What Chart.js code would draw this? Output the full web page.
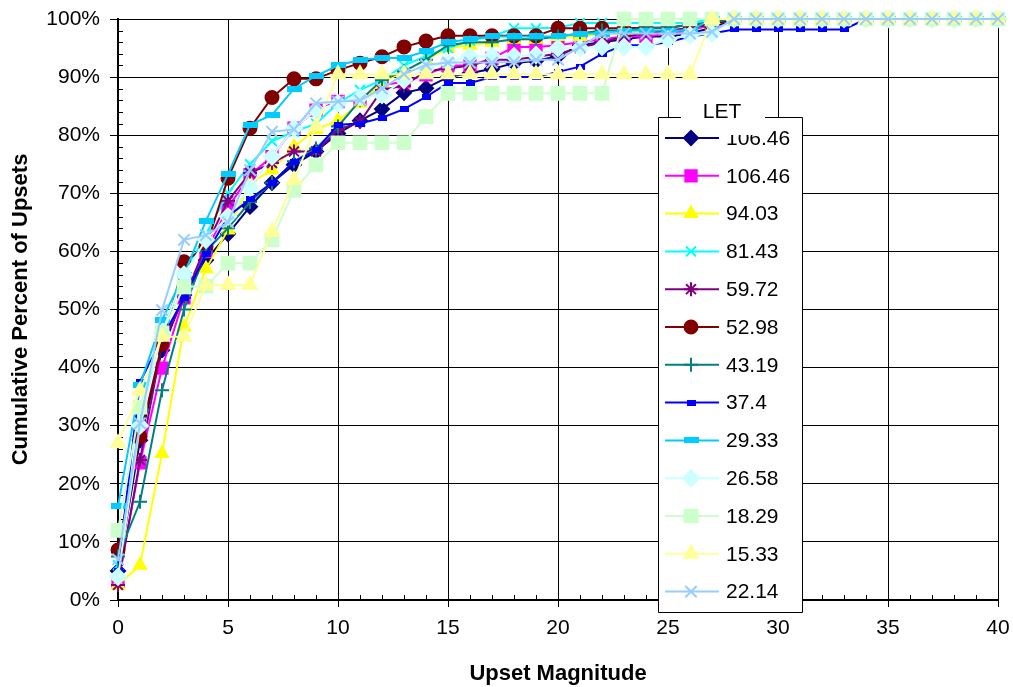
<!DOCTYPE html>
<html>
<head>
<meta charset="utf-8">
<script src="https://cdn.jsdelivr.net/npm/chart.js@4.4.1/dist/chart.umd.min.js"></script>
<style>
  html, body { margin: 0; padding: 0; background: #fff; }
  #wrap { width: 1013px; height: 687px; }
</style>
</head>
<body>
<div id="wrap"><canvas id="chartId" width="1013" height="687"></canvas></div>
<script>
// upset magnitude (x) and cumulative percent per LET value
const magnitudes = [0,1,2,3,4,5,6,7,8,9,10,11,12,13,14,15,16,17,18,19,20,21,22,23,24,25,26,27,28,29,30,31,32,33,34,35,36,37,38,39,40];
const letLabels = ['106.46','106.46','94.03','81.43','59.72','52.98','43.19','37.4','29.33','26.58','18.29','15.33','22.14'];

const let106a = [5,27.5,43,52.5,58.5,63,67.7,71.8,74.9,77.2,80.3,82.5,84.5,87.3,88.1,90,90.7,91.4,92.4,92.8,93.6,95.5,96,96.5,97,97,97.5,98.5,100,100,100,100,100,100,100,100,100,100,100,100,100];
const let106b = [3,23.6,39.9,52,60,67.5,73.2,76.3,81.2,84.3,85.8,86,88.6,89.2,90.4,92,92,93.2,95.2,95.2,95.5,96,96.5,97,97,97.5,98,99,100,100,100,100,100,100,100,100,100,100,100,100,100];
const let94 = [2.6,6,25.2,47,57,63.7,71.7,74,78,81,82.5,85.5,89,91,93,95,95.5,96,96.5,96.5,97,97,97.5,97.5,98,98,98.5,99,100,100,100,100,100,100,100,100,100,100,100,100,100];
const let81 = [6,31,46,56,63,70,75,79,80.6,82,85.5,87.8,89.5,92,93.6,95,96.3,97,98.4,98.4,98.5,99.3,99.3,99.3,99.3,99.3,99.3,100,100,100,100,100,100,100,100,100,100,100,100,100,100];
const let59 = [2.6,24.1,44,52,61,68.7,73.5,75.2,77.2,77.2,80.9,82.3,87.8,88.5,91,91.5,92,93,93,93.5,94,95,96,97,97.5,98,98.5,99,100,100,100,100,100,100,100,100,100,100,100,100,100];
const let52 = [8.6,28.1,44,58.2,60.8,72.6,81.2,86.5,89.7,89.7,91.2,92.4,93.5,95.2,96.2,97.1,97.1,97.1,97.1,97.1,98.4,98.4,98.4,98.4,98.5,98.5,99,99,100,100,100,100,100,100,100,100,100,100,100,100,100];
const let43 = [7.5,16.9,36.1,50,60,64,68.5,71.8,75.5,77.7,81.5,86,89.5,91,93,95.5,96,96,96.5,96.5,97,97.5,98,98,98.5,98.5,99,99.5,100,100,100,100,100,100,100,100,100,100,100,100,100];
const let37 = [5,37.5,45,52,59.5,66,69,71.8,75.4,77.4,81.8,82,83,84.5,86.6,89,89,90,90,90,90.9,91.8,94,95.5,95.5,96,97,97.5,98.2,98.2,98.2,98.2,98.2,98.2,100,100,100,100,100,100,100];
const let29 = [16.2,37,48.2,56,65.3,73.3,81.8,83.5,88,90.2,92,93,93.3,93.3,94.5,96,96.5,97,97,97,97,97.5,97.5,98,98,98,98,100,100,100,100,100,100,100,100,100,100,100,100,100,100];
const let26 = [4,30,46,56,62,66,71,76.3,81.2,84.3,85.5,86.5,86.9,89.5,91.5,92.5,93.6,93.6,93.6,93.8,95,95,95.2,95.2,95.2,96.5,97.2,97.5,100,100,100,100,100,100,100,100,100,100,100,100,100];
const let18 = [12,33.2,46,53.9,54,58,58,62,70.5,74.9,78.7,78.7,78.7,78.7,83.2,87.2,87.2,87.2,87.2,87.2,87.2,87.2,87.2,100,100,100,100,100,100,100,100,100,100,100,100,100,100,100,100,100,100];
const let15 = [27,36,45.3,45.3,54.2,54.2,54.2,63.4,72.3,81.5,90.5,90.5,90.5,90.5,90.5,90.5,90.5,90.5,90.5,90.5,90.5,90.5,90.5,90.5,90.5,90.5,90.5,100,100,100,100,100,100,100,100,100,100,100,100,100,100];
const let22 = [7,30.4,49.9,62,62.8,65,74,80.6,81,85.5,85.8,86,88,90.5,92.1,92.5,92.5,92.5,92.6,93,93,95.2,97.5,97.5,97.5,97.5,97.5,97.8,100,100,100,100,100,100,100,100,100,100,100,100,100];

const seriesValues = [let106a, let106b, let94, let81, let59, let52, let43, let37, let29, let26, let18, let15, let22];

// little bar shaped markers (Excel "dash" markers)
function barMarker(w, h, color) {
    const c = document.createElement('canvas');
    c.width = w; c.height = h;
    const g = c.getContext('2d');
    g.fillStyle = color;
    g.fillRect(0, 0, w, h);
    return c;
}

const colors = ['#000080','#FF00FF','#FFFF00','#00FFFF','#800080','#800000','#008080','#0000FF','#00CCFF','#CCFFFF','#CCFFCC','#FFFF99','#99CCFF'];
const markers = ['rectRot','rect','triangle','crossRot','star','circle','cross',
    barMarker(9, 6, '#0000FF'), barMarker(15, 6, '#00CCFF'),
    'rectRot','rect','triangle','crossRot'];
const markerSizes = [7, 8, 7, 7, 7, 6.5, 7, 5, 5, 8, 9, 8, 8];

const FONT = '"Liberation Sans", Arial, sans-serif';

const datasets = seriesValues.map(function(vals, i) {
    return {
        label: letLabels[i],
        data: magnitudes.map((m, j) => ({ x: m, y: vals[j] })),
        borderColor: colors[i],
        backgroundColor: colors[i],
        pointBackgroundColor: colors[i],
        pointBorderColor: colors[i],
        pointBorderWidth: 2,
        borderWidth: 2,
        pointStyle: markers[i],
        pointRadius: markerSizes[i],
        tension: 0,
        clip: false,
        order: seriesValues.length - i
    };
});

// small inside ticks between the labelled ones
const minorTicks = {
    id: 'minorTicks',
    beforeDatasetsDraw(chart) {
        const { ctx, chartArea: a, scales: { x, y } } = chart;
        ctx.save();
        ctx.strokeStyle = '#000';
        ctx.lineWidth = 1;
        ctx.beginPath();
        x.ticks.forEach(t => {
            if (t.value % 5 !== 0) {
                const px = Math.round(x.getPixelForValue(t.value)) + 0.5;
                ctx.moveTo(px, a.bottom);
                ctx.lineTo(px, a.bottom - 5);
            }
        });
        y.ticks.forEach(t => {
            if (t.value % 10 !== 0) {
                const py = Math.round(y.getPixelForValue(t.value)) + 0.5;
                ctx.moveTo(a.left, py);
                ctx.lineTo(a.left + 5, py);
            }
        });
        ctx.stroke();
        ctx.restore();
    }
};

// boxed legend sitting on the plot, like the excel one
const letLegend = {
    id: 'letLegend',
    afterDraw(chart) {
        const ctx = chart.ctx;
        const left = 658, right = 802, top = 117, bottom = 612;
        const rowTop = 138, rowGap = 37.8;
        ctx.save();
        ctx.fillStyle = '#fff';
        ctx.fillRect(left, top, right - left, bottom - top);
        ctx.strokeStyle = '#000';
        ctx.lineWidth = 1;
        ctx.beginPath();
        ctx.moveTo(681, top + 0.5);
        ctx.lineTo(left + 0.5, top + 0.5);
        ctx.lineTo(left + 0.5, bottom + 0.5);
        ctx.lineTo(right + 0.5, bottom + 0.5);
        ctx.lineTo(right + 0.5, top + 0.5);
        ctx.lineTo(765, top + 0.5);
        ctx.stroke();

        chart.data.datasets.forEach(function(ds, i) {
            const y = rowTop + i * rowGap;
            ctx.strokeStyle = ds.borderColor;
            ctx.lineWidth = ds.borderWidth;
            ctx.beginPath();
            ctx.moveTo(665, y);
            ctx.lineTo(719, y);
            ctx.stroke();
            ctx.fillStyle = ds.pointBackgroundColor;
            ctx.strokeStyle = ds.pointBorderColor;
            ctx.lineWidth = ds.pointBorderWidth;
            Chart.helpers.drawPoint(ctx, {
                pointStyle: ds.pointStyle, radius: ds.pointRadius,
                rotation: 0, borderWidth: ds.pointBorderWidth
            }, 691, y);
            ctx.fillStyle = '#000';
            ctx.font = '21px ' + FONT;
            ctx.textAlign = 'left';
            ctx.textBaseline = 'middle';
            ctx.fillText(ds.label, 726, y + 1);
        });

        // title covers the top of the first entry
        ctx.fillStyle = '#fff';
        ctx.fillRect(700, 98, 65, 37);
        ctx.fillStyle = '#000';
        ctx.font = '21px ' + FONT;
        ctx.textAlign = 'center';
        ctx.textBaseline = 'middle';
        ctx.fillText('LET', 722, 112);
        ctx.restore();
    }
};

const chrt = document.getElementById('chartId').getContext('2d');
const chartId = new Chart(chrt, {
    type: 'line',
    data: { datasets: datasets },
    options: {
        responsive: false,
        animation: false,
        events: [],
        layout: { padding: { left: 0, top: 19, right: 15, bottom: 0 } },
        plugins: {
            legend: { display: false },
            tooltip: { enabled: false }
        },
        scales: {
            x: {
                type: 'linear',
                min: 0,
                max: 40,
                ticks: {
                    stepSize: 1,
                    autoSkip: false,
                    maxRotation: 0,
                    padding: 9,
                    color: '#000',
                    font: { family: FONT, size: 21 },
                    callback: v => (v % 5 === 0 ? v : '')
                },
                grid: {
                    color: c => (c.tick && c.tick.value % 5 === 0 ? '#000' : 'rgba(0,0,0,0)'),
                    tickColor: c => (c.tick && c.tick.value % 5 === 0 ? '#000' : 'rgba(0,0,0,0)'),
                    tickLength: 7,
                    lineWidth: 1
                },
                border: { color: '#000', width: 2 },
                title: {
                    display: true,
                    text: 'Upset Magnitude',
                    color: '#000',
                    font: { family: FONT, size: 22, weight: 'bold' },
                    padding: { top: 0, bottom: 0 }
                },
                afterFit: s => { s.height = 87; s.paddingLeft = 0; s.paddingRight = 0; }
            },
            y: {
                min: 0,
                max: 100,
                ticks: {
                    stepSize: 2,
                    autoSkip: false,
                    padding: 10,
                    color: '#000',
                    font: { family: FONT, size: 21 },
                    callback: v => (v % 10 === 0 ? v + '%' : '')
                },
                grid: {
                    color: c => (c.tick && c.tick.value % 10 === 0 ? '#000' : 'rgba(0,0,0,0)'),
                    tickColor: c => (c.tick && c.tick.value % 10 === 0 ? '#000' : 'rgba(0,0,0,0)'),
                    tickLength: 8,
                    lineWidth: 1
                },
                border: { color: '#000', width: 2 },
                title: {
                    display: true,
                    text: 'Cumulative Percent of Upsets',
                    color: '#000',
                    font: { family: FONT, size: 22, weight: 'bold' },
                    padding: { top: 8, bottom: 0 }
                },
                afterFit: s => { s.width = 118; s.paddingTop = 0; s.paddingBottom = 0; }
            }
        }
    },
    plugins: [minorTicks, letLegend]
});
</script>
</body>
</html>
